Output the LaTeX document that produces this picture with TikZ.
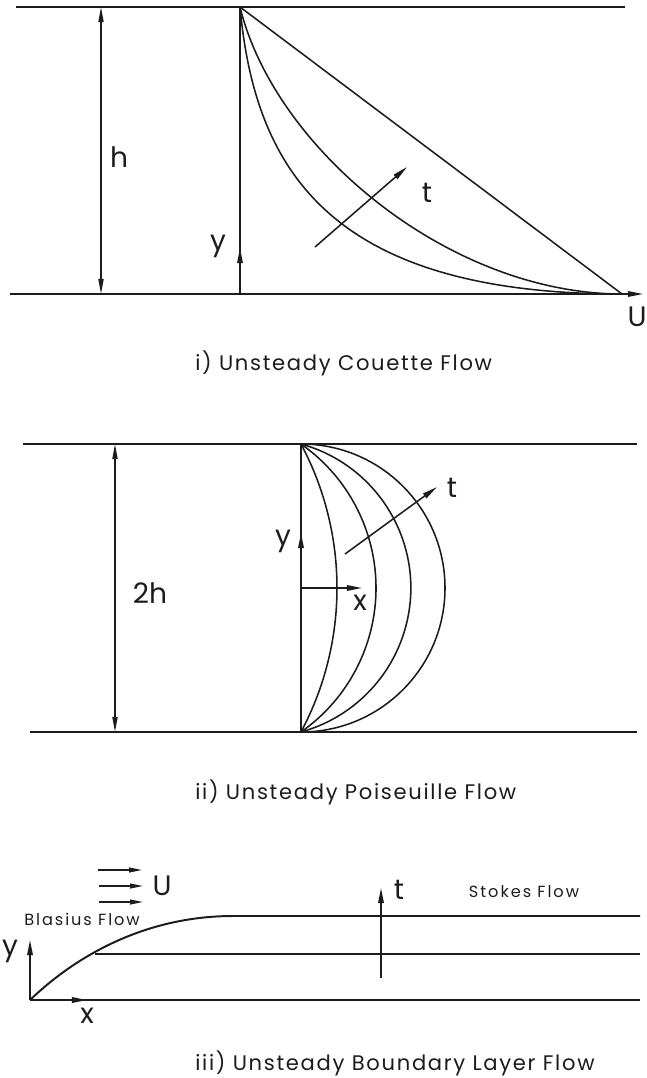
\documentclass[tikz,border=0pt]{standalone}
\usepackage{fontspec}
\setmainfont{Poppins}
\usetikzlibrary{arrows.meta,positioning}
\definecolor{ink}{HTML}{1C1C1C}
\newcommand{\capsize}{\fontsize{15}{18}\selectfont\addfontfeatures{LetterSpace=8}}
\newcommand{\labsize}{\fontsize{20}{24}\selectfont}
\newcommand{\tagsize}{\fontsize{11.5}{14}\selectfont\addfontfeatures{LetterSpace=12}}
\tikzset{
 every node/.append style={text=ink,inner sep=0pt},
 wall/.style={draw=ink,line width=1.4pt},
 profile/.style={draw=ink,line width=1.1pt},
 axis/.style={-{Triangle[length=3.8mm,width=1.4mm]},draw=ink,line width=1.1pt},
 flowarrow/.style={-{Triangle[length=3.2mm,width=1.2mm]},draw=ink,line width=1pt},
 dim/.style={{Triangle[length=3.8mm,width=1.3mm]}-{Triangle[length=3.8mm,width=1.3mm]},draw=ink,line width=1pt},
 sym/.style={font=\labsize},
 caption/.style={font=\capsize,anchor=west},
 tag/.style={font=\tagsize},
}

\begin{document}
\begin{tikzpicture}[x=0.025cm,y=-0.025cm]

\useasboundingbox (0,0) rectangle (646,1078);
% i) Couette
\coordinate (ctop) at (240,7); \coordinate (cbot) at (240,294); \coordinate (cend) at (622,294);
\draw[wall] (16,7) -- (625,7);
\draw[axis] (10,294) -- (643,294);
\draw[dim] (101,7) -- (101,294);
\draw[wall] (cbot) -- (ctop);
\draw[axis] (cbot) -- (240,248);
\draw[profile] (ctop) -- (cend);
\draw[profile] (ctop) .. controls (275,150) and (450,294) .. (cend);
\draw[profile] (ctop) .. controls (255,170) and (330,294) .. (cend);
\coordinate (ct0) at (315,247); \coordinate (ct1) at (407,167);
\draw[axis] (ct0) -- (ct1);
\node[sym] (ch) at (119,157) {h};
\node[sym] (cy) at (218,246) {y};
\node[sym] (ct) at (427,193) {t};
\node[sym] (cu) at (637,317) {U};
\node[caption] (capa) at (195,363) {i) Unsteady Couette Flow};

% ii) Poiseuille
\coordinate (ptop) at (301,444); \coordinate (pbot) at (301,732); \coordinate (porg) at (301,588);
\draw[wall] (23,444) -- (637,444);
\draw[wall] (30,732) -- (637,732);
\draw[dim] (115,444) -- (115,732);
\draw[wall] (ptop) -- (pbot);
\draw[profile] (ptop) arc[start angle=-28.07,end angle=28.07,radius=306];
\draw[profile] (ptop) arc[start angle=-55.04,end angle=55.04,radius=175.7];
\draw[profile] (ptop) arc[start angle=-74.67,end angle=74.67,radius=149.3];
\draw[profile] (ptop) arc[start angle=-90,end angle=90,radius=144];
\draw[axis] (porg) -- (301,533);
\draw[axis] (porg) -- (362,588);
\coordinate (pt0) at (345,554); \coordinate (pt1) at (437,487);
\draw[axis] (pt0) -- (pt1);
\node[sym] (p2h) at (150,593) {2h};
\node[sym] (py) at (283,541) {y};
\node[sym] (px) at (360,603) {x};
\node[sym] (pt) at (452,488) {t};
\node[caption] (capb) at (195,792) {ii) Unsteady Poiseuille Flow};

% iii) boundary layer
\coordinate (borg) at (30,1000); \coordinate (bmid) at (95,954); \coordinate (bedge) at (233,916);
\draw[wall] (borg) -- (640,1000);
\draw[wall] (bmid) -- (640,954);
\draw[wall] (borg) .. controls (80,952) and (150,916) .. (bedge) -- (640,916);
\draw[axis] (borg) -- (30,940);
\draw[axis] (borg) -- (87,1000);
\draw[axis] (381,978) -- (381,888);
\foreach \yy/\xa in {870/98,886/99,902/99}
  \draw[flowarrow] (\xa,\yy) -- (\xa+44,\yy);
\node[sym] (bu) at (162,886) {U};
\node[tag] (blasius) at (82,919) {Blasius Flow};
\node[tag] (stokes) at (524,892) {Stokes Flow};
\node[sym] (by) at (10,951) {y};
\node[sym] (bx) at (87,1016) {x};
\node[sym] (bt) at (399,890) {t};
\node[caption] (capc) at (195,1063) {iii) Unsteady Boundary Layer Flow};

\end{tikzpicture}
\end{document}
